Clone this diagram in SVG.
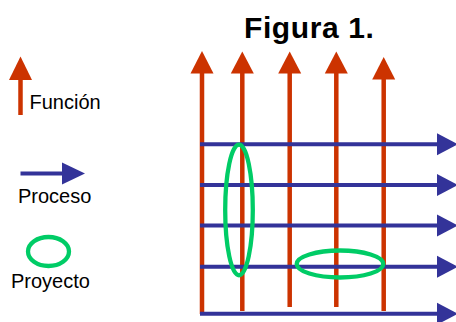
<svg xmlns="http://www.w3.org/2000/svg" width="456" height="322" viewBox="0 0 456 322">
  <style>
    .fn { stroke: #CC3300; stroke-width: 4.5; fill: none; }
    .fnhead { fill: #CC3300; }
    .pr { stroke: #333399; stroke-width: 4; fill: none; }
    .prhead { fill: #333399; }
    .pj { stroke: #00CC66; stroke-width: 4.3; fill: none; }
    .lbl { font-family: "Liberation Sans", Arial, sans-serif; font-size: 20px; fill: #000; }
    .title { font-family: "Liberation Sans", Arial, sans-serif; font-size: 30px; font-weight: bold; letter-spacing: 0.6px; fill: #000; }
  </style>
  <rect width="456" height="322" fill="#fff"/>

  <text id="title" class="title" x="244" y="38">Figura 1.</text>

  <!-- legend -->
  <g id="legend-funcion">
    <line class="fn" x1="20.5" y1="78" x2="20.5" y2="115"/>
    <polygon class="fnhead" points="20.5,56.5 32,80 9,80"/>
    <text class="lbl" x="29.5" y="109">Función</text>
  </g>
  <g id="legend-proceso">
    <line class="pr" x1="20.5" y1="173.5" x2="64" y2="173.5"/>
    <polygon class="prhead" points="85,173.5 62,162.5 62,184.5"/>
    <text class="lbl" x="18" y="202.5">Proceso</text>
  </g>
  <g id="legend-proyecto">
    <ellipse class="pj" cx="48.5" cy="251.5" rx="20.5" ry="14.5"/>
    <text class="lbl" x="11" y="287.5">Proyecto</text>
  </g>

  <!-- functions: vertical arrows -->
  <g id="funciones">
    <g id="f1"><line class="fn" x1="202" y1="71" x2="202" y2="314"/><polygon class="fnhead" points="202,51 213.5,73.5 190.5,73.5"/></g>
    <g id="f2"><line class="fn" x1="242.3" y1="71" x2="242.3" y2="311"/><polygon class="fnhead" points="242.3,51.5 253.8,73.5 230.8,73.5"/></g>
    <g id="f3"><line class="fn" x1="289.7" y1="71" x2="289.7" y2="307"/><polygon class="fnhead" points="289.7,51.5 301.2,73.5 278.2,73.5"/></g>
    <g id="f4"><line class="fn" x1="336.3" y1="71" x2="336.3" y2="307"/><polygon class="fnhead" points="336.3,51.5 347.8,73.5 324.8,73.5"/></g>
    <g id="f5"><line class="fn" x1="383.7" y1="77" x2="383.7" y2="311"/><polygon class="fnhead" points="383.7,57 395.2,79.5 372.2,79.5"/></g>
  </g>

  <!-- processes: horizontal arrows -->
  <g id="procesos">
    <g id="p1"><line class="pr" x1="200" y1="144.3" x2="440" y2="144.3"/><polygon class="prhead" points="458,144.3 437,133.3 437,155.3"/></g>
    <g id="p2"><line class="pr" x1="200" y1="185" x2="440" y2="185"/><polygon class="prhead" points="458,185 437,174 437,196"/></g>
    <g id="p3"><line class="pr" x1="200" y1="225.5" x2="440" y2="225.5"/><polygon class="prhead" points="458,225.5 437,214.5 437,236.5"/></g>
    <g id="p4"><line class="pr" x1="200" y1="266.7" x2="440" y2="266.7"/><polygon class="prhead" points="458,266.7 437,255.7 437,277.7"/></g>
    <g id="p5"><line class="pr" x1="200" y1="313.7" x2="440" y2="313.7"/><polygon class="prhead" points="458,313.7 437,302.7 437,324.7"/></g>
  </g>

  <!-- projects -->
  <g id="proyectos">
    <ellipse id="pj1" class="pj" cx="239" cy="210" rx="13.8" ry="65.3"/>
    <ellipse id="pj2" class="pj" cx="340" cy="264" rx="43.3" ry="13.5"/>
  </g>
</svg>
